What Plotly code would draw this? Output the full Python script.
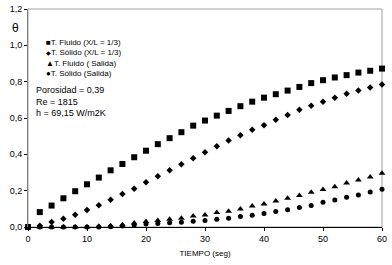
import plotly.graph_objects as go

tiempo = [0, 2, 4, 6, 8, 10, 12, 14, 16, 18, 20, 22, 24, 26, 28, 30,
          32, 34, 36, 38, 40, 42, 44, 46, 48, 50, 52, 54, 56, 58, 60]

fluido_13 = [0.0, 0.082, 0.118, 0.158, 0.197, 0.235, 0.272, 0.312, 0.347, 0.384,
             0.420, 0.456, 0.489, 0.522, 0.558, 0.586, 0.613, 0.639, 0.665, 0.690,
             0.712, 0.731, 0.751, 0.771, 0.792, 0.808, 0.823, 0.836, 0.850, 0.860, 0.872]

solido_13 = [0.0, 0.007, 0.028, 0.046, 0.068, 0.094, 0.120, 0.150, 0.182, 0.211,
             0.246, 0.279, 0.312, 0.345, 0.378, 0.411, 0.445, 0.476, 0.505, 0.536,
             0.560, 0.590, 0.617, 0.645, 0.667, 0.690, 0.712, 0.733, 0.751, 0.768, 0.784]

fluido_sal = [0.0, 0.0, 0.0, 0.0, 0.0, 0.0, 0.004, 0.007, 0.012, 0.022,
              0.030, 0.036, 0.042, 0.048, 0.060, 0.066, 0.080, 0.087, 0.099, 0.115,
              0.127, 0.143, 0.158, 0.173, 0.191, 0.206, 0.222, 0.242, 0.259, 0.275, 0.296]

solido_sal = [0.0, 0.0, 0.0, 0.0, 0.0, 0.0, 0.0, 0.002, 0.005, 0.011,
              0.016, 0.019, 0.023, 0.026, 0.031, 0.036, 0.042, 0.048, 0.058, 0.065,
              0.075, 0.086, 0.095, 0.108, 0.119, 0.136, 0.149, 0.164, 0.176, 0.193, 0.208]

y_ticks = [0.0, 0.2, 0.4, 0.6, 0.8, 1.0, 1.2]
y_tick_text = ["0,0", "0,2", "0,4", "0,6", "0,8", "1,0", "1,2"]
x_ticks = [0, 10, 20, 30, 40, 50, 60]

legend_lines = ["■T. Fluido (X/L = 1/3)",
                "<span style='font-size:6px'>◆</span>T. Sólido (X/L = 1/3)",
                "▲T. Fluido ( Salida)", "●T. Sólido (Salida)"]
info_lines = ["Porosidad = 0,39", "Re = 1815", "h = 69,15 W/m2K"]

fig = go.Figure()
series = [
    (fluido_13, "square", 6),
    (solido_13, "diamond", 5),
    (fluido_sal, "triangle-up", 6),
    (solido_sal, "circle", 5),
]
for vals, sym, sz in series:
    fig.add_trace(go.Scatter(
        x=tiempo, y=vals, mode="markers",
        marker=dict(symbol=sym, size=sz, color="black", line=dict(width=0)),
        cliponaxis=False, showlegend=False))

font = "Liberation Sans, Arial, sans-serif"

fig.add_shape(type="rect", xref="paper", yref="paper", x0=0, y0=0, x1=1, y1=1,
              line=dict(color="#a0a0a0", width=1), layer="below")

fig.add_annotation(text="<br>".join(legend_lines), xref="paper", yref="paper",
                   x=0.045, y=0.878, xanchor="left", yanchor="top", align="left",
                   showarrow=False, font=dict(family=font, size=8, color="black"))
fig.add_annotation(text="<br>".join(info_lines), xref="paper", yref="paper",
                   x=0.018, y=0.66, xanchor="left", yanchor="top", align="left",
                   showarrow=False, font=dict(family=font, size=9, color="black"))
fig.add_annotation(text="θ", xref="paper", yref="paper", x=-0.035, y=0.915,
                   xanchor="center", yanchor="middle", showarrow=False,
                   font=dict(family=font, size=12, color="black"))

fig.update_layout(
    width=392, height=265,
    margin=dict(l=28, r=10, t=9, b=38, autoexpand=False),
    paper_bgcolor="white", plot_bgcolor="white",
    font=dict(family=font, size=9, color="black"),
    xaxis=dict(range=[0, 60], tickvals=x_ticks, showgrid=False, zeroline=False,
               showline=True, linecolor="black", linewidth=1, automargin=False,
               ticks="outside", ticklen=3, tickcolor="black",
               tickfont=dict(size=9),
               title=dict(text="TIEMPO (seg)", font=dict(size=8), standoff=7)),
    yaxis=dict(range=[0, 1.2], tickvals=y_ticks, ticktext=y_tick_text,
               showgrid=False, zeroline=False, showline=True, automargin=False,
               linecolor="#808080", linewidth=1, tickfont=dict(size=9),
               ticks="outside", ticklen=3, tickcolor="black"),
)

fig.write_html("out.html", config={"displayModeBar": False},
               post_script="document.body.style.margin='0';document.body.style.padding='0';")
